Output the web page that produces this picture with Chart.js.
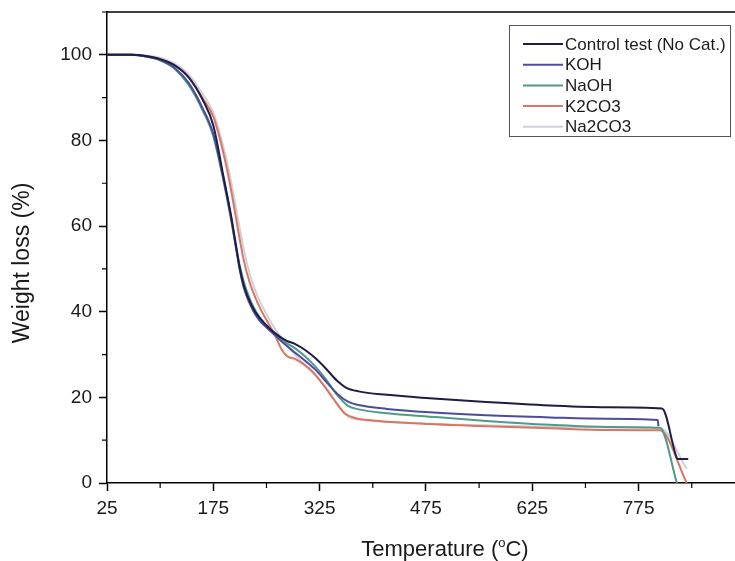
<!DOCTYPE html>
<html>
<head>
<meta charset="utf-8">
<script src="https://cdn.jsdelivr.net/npm/chart.js@4.4.0/dist/chart.umd.min.js"></script>
<style>
  html, body { margin: 0; padding: 0; background: #fff; }
</style>
</head>
<body>
<canvas id="tgaChart" width="735" height="561"></canvas>
<script>
// tick values
const xTicks = [25, 175, 325, 475, 625, 775];
const xMinor = [100, 250, 400, 550, 700, 850];
const yTicks = [0, 20, 40, 60, 80, 100];
const yMinor = [10, 30, 50, 70, 90, 110];

const seriesNames = ["Control test (No Cat.)", "KOH", "NaOH", "K2CO3", "Na2CO3"];
const seriesColours = ["#1d1d45", "#4c4c9c", "#4f9a8b", "#d97663", "#d0d0d9"];

// temperature (C) / weight (%)
const controlT = [25, 60, 80, 100, 120, 140, 160, 175, 190, 200, 206, 212, 218, 225, 232, 240, 250, 262, 277, 290, 305, 320, 335, 350, 362, 380, 420, 480, 560, 650, 730, 808, 829, 830, 845];
const controlW = [100, 100, 99.7, 99, 97.6, 94.8, 89.5, 83.5, 71, 62.5, 56.5, 50.5, 46.2, 43, 40.6, 38.6, 36.8, 35, 33.3, 32.5, 31, 29, 26.5, 23.8, 22.3, 21.4, 20.6, 19.8, 18.9, 18.1, 17.7, 17.4, 5.8, 5.6, 5.6];

const kohT = [25, 60, 80, 100, 120, 140, 160, 175, 190, 200, 206, 212, 218, 225, 232, 240, 250, 262, 275, 290, 305, 320, 335, 350, 365, 380, 420, 480, 560, 650, 730, 802, 803];
const kohW = [100, 100, 99.6, 98.8, 97, 93.5, 87.5, 81.5, 70.5, 62, 56, 50, 45.6, 42.4, 40, 38, 36.3, 34.5, 32.5, 30.5, 28.5, 26.3, 23.5, 20.8, 19, 18.2, 17.3, 16.5, 15.8, 15.3, 15.0, 14.7, 13.3];

const naohT = [25, 60, 80, 100, 120, 140, 160, 175, 190, 200, 206, 212, 218, 225, 232, 240, 250, 262, 275, 290, 305, 320, 335, 350, 365, 380, 420, 480, 560, 650, 730, 805, 829];
const naohW = [100, 100, 99.6, 98.7, 96.8, 93, 87, 81, 70, 61.5, 56, 51, 47, 43.6, 41, 38.8, 36.8, 34.7, 33, 31.5, 29.5, 27, 24, 20.5, 18, 17.2, 16.3, 15.5, 14.5, 13.6, 13.1, 12.9, 0];

const k2co3T = [25, 60, 80, 100, 120, 140, 160, 175, 190, 200, 210, 218, 226, 234, 242, 252, 262, 272, 280, 290, 300, 315, 330, 345, 360, 375, 400, 450, 550, 650, 730, 805, 843];
const k2co3W = [100, 100, 99.7, 99, 97.6, 94.8, 89.8, 85.5, 76.5, 68.5, 59, 52, 47, 43.4, 40.5, 37.5, 34.5, 31, 29.5, 29, 28, 26, 23, 19.5, 16.3, 15.2, 14.6, 14.0, 13.3, 12.8, 12.4, 12.3, 0];

const na2co3T = [25, 60, 80, 100, 120, 140, 160, 175, 190, 200, 210, 218, 226, 234, 242, 252, 262, 275, 290, 305, 320, 335, 350, 365, 380, 420, 500, 600, 700, 805, 843];
const na2co3W = [100, 100, 99.8, 99.3, 98, 95.5, 90.8, 86.5, 78, 70.5, 61.5, 54.5, 49, 45, 42, 38.8, 36, 33, 30, 27.5, 25, 22, 18.5, 15.5, 14.8, 14.3, 13.7, 13.3, 13.0, 12.8, 3.3];

const allT = [controlT, kohT, naohT, k2co3T, na2co3T];
const allW = [controlW, kohW, naohW, k2co3W, na2co3W];

const fontFamily = "'Liberation Sans', Arial, sans-serif";
const textColour = "#1a1a1a";

function toPoints(ts, ws) {
  let pts = [];
  for (let i = 0; i < ts.length; i++) {
    pts.push({ x: ts[i], y: ws[i] });
  }
  return pts;
}

const datasets = seriesNames.map((name, i) => ({
  label: name,
  data: toPoints(allT[i], allW[i]),
  borderColor: seriesColours[i],
  backgroundColor: seriesColours[i],
  borderWidth: 2,
  pointRadius: 0,
  fill: false,
  cubicInterpolationMode: "monotone",
}));

// minor ticks, top frame line and the two axis titles
const frameAndMinor = {
  id: "frameAndMinor",
  afterDraw(chart) {
    const ctx = chart.ctx;
    const area = chart.chartArea;
    const xs = chart.scales.x;
    const ys = chart.scales.y;
    ctx.save();
    ctx.strokeStyle = "#000";
    ctx.lineWidth = 1.5;
    ctx.beginPath();
    ctx.moveTo(area.left, area.top);
    ctx.lineTo(area.right, area.top);
    ctx.stroke();
    ctx.lineWidth = 1.2;
    ctx.beginPath();
    xMinor.forEach((v) => {
      const px = xs.getPixelForValue(v);
      ctx.moveTo(px, area.bottom);
      ctx.lineTo(px, area.bottom + 5);
    });
    yMinor.forEach((v) => {
      const py = ys.getPixelForValue(v);
      ctx.moveTo(area.left, py);
      ctx.lineTo(area.left - 5, py);
    });
    ctx.stroke();

    // axis titles (x title has a superscript "o")
    ctx.fillStyle = textColour;
    ctx.textBaseline = "alphabetic";
    const big = "22px " + fontFamily;
    const small = "13px " + fontFamily;
    const parts = [["Temperature (", big, 0], ["o", small, -9], ["C)", big, 0]];
    let total = 0;
    parts.forEach((p) => { ctx.font = p[1]; total += ctx.measureText(p[0]).width; });
    let x = 445 - total / 2;
    const base = 556;
    parts.forEach((p) => {
      ctx.font = p[1];
      ctx.fillText(p[0], x, base + p[2]);
      x += ctx.measureText(p[0]).width;
    });

    ctx.translate(23, 263);
    ctx.rotate(-Math.PI / 2);
    ctx.font = "23px " + fontFamily;
    ctx.textAlign = "center";
    ctx.textBaseline = "middle";
    ctx.fillText("Weight loss (%)", 0, 0);
    ctx.restore();
  },
};

// legend box in the upper right corner
const boxLegend = {
  id: "boxLegend",
  afterDraw(chart) {
    const ctx = chart.ctx;
    const left = 509, top = 25, w = 221, h = 111;
    ctx.save();
    ctx.fillStyle = "#fff";
    ctx.fillRect(left, top, w, h);
    ctx.strokeStyle = "#555";
    ctx.lineWidth = 1;
    ctx.strokeRect(left + 0.5, top + 0.5, w, h);
    ctx.font = "17px " + fontFamily;
    ctx.textBaseline = "middle";
    ctx.fillStyle = textColour;
    chart.data.datasets.forEach((ds, i) => {
      const y = top + 19 + i * 20.7;
      ctx.strokeStyle = ds.borderColor;
      ctx.lineWidth = 2;
      ctx.beginPath();
      ctx.moveTo(left + 14, y);
      ctx.lineTo(left + 54, y);
      ctx.stroke();
      ctx.fillText(ds.label, left + 56, y + 1);
    });
    ctx.restore();
  },
};

new Chart(document.getElementById("tgaChart"), {
  type: "line",
  data: { datasets: datasets },
  options: {
    responsive: false,
    animation: false,
    layout: { padding: { top: 12, right: 0, left: 0, bottom: 0 } },
    plugins: {
      legend: { display: false },
      tooltip: { enabled: false },
    },
    scales: {
      x: {
        type: "linear",
        min: 25,
        max: 911,
        afterBuildTicks: (scale) => {
          scale.ticks = xTicks.map((v) => ({ value: v }));
        },
        afterFit: (scale) => {
          scale.height = 78;
          scale.paddingLeft = 0;
          scale.paddingRight = 0;
        },
        grid: { drawOnChartArea: false, tickLength: 8, color: "#000", tickWidth: 1.5 },
        border: { color: "#000", width: 1.5 },
        ticks: {
          color: textColour,
          font: { family: fontFamily, size: 19 },
          padding: 6,
          maxRotation: 0,
        },
      },
      y: {
        min: 0,
        max: 110,
        afterBuildTicks: (scale) => {
          scale.ticks = yTicks.map((v) => ({ value: v }));
        },
        afterFit: (scale) => {
          scale.width = 107;
          scale.paddingTop = 0;
          scale.paddingBottom = 0;
        },
        grid: { drawOnChartArea: false, tickLength: 8, color: "#000", tickWidth: 1.5 },
        border: { color: "#000", width: 1.5 },
        ticks: {
          color: textColour,
          font: { family: fontFamily, size: 19 },
          padding: 7,
        },
      },
    },
  },
  plugins: [frameAndMinor, boxLegend],
});
</script>
</body>
</html>
